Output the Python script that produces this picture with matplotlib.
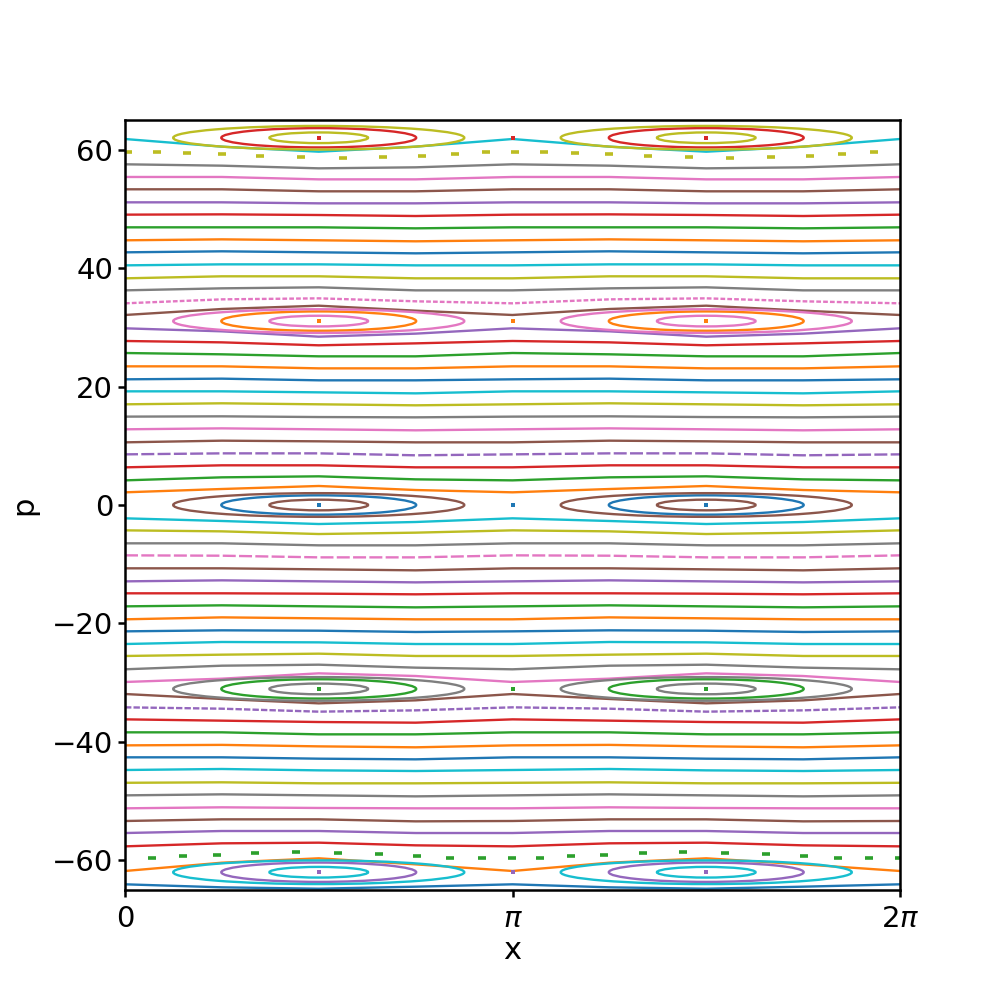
import numpy as np
import matplotlib
matplotlib.use("Agg")
import matplotlib.pyplot as plt
from matplotlib.patches import Ellipse

# ---------------- data ----------------
# invariant curves: p at x = 0, pi/4, pi/2, 3pi/4 (pattern repeats with period pi)
curve_colors = [
    "tab:cyan", "tab:gray", "tab:pink", "tab:brown", "tab:purple", "tab:red",
    "tab:green", "tab:orange", "tab:blue", "tab:cyan", "tab:olive", "tab:gray",
    "tab:pink", "tab:brown", "tab:purple", "tab:red", "tab:green", "tab:orange",
    "tab:blue", "tab:cyan", "tab:olive", "tab:gray", "tab:pink", "tab:brown",
    "tab:purple", "tab:red", "tab:green", "tab:orange",
    "tab:cyan", "tab:olive", "tab:gray", "tab:pink", "tab:brown", "tab:purple",
    "tab:red", "tab:green", "tab:orange", "tab:blue", "tab:cyan", "tab:olive",
    "tab:gray", "tab:pink", "tab:brown", "tab:purple", "tab:red", "tab:green",
    "tab:orange", "tab:blue", "tab:cyan", "tab:olive", "tab:gray", "tab:pink",
    "tab:brown", "tab:purple", "tab:red", "tab:orange", "tab:blue",
]
curve_p_x0 = [
    61.79, 57.52, 55.38, 53.30, 51.10, 49.02, 46.88, 44.69, 42.66, 40.46, 38.27, 36.24,
    34.05, 32.08, 29.83, 27.69, 25.66, 23.41, 21.22, 19.19, 17.00, 14.92, 12.78, 10.58,
    8.55, 6.36, 4.16, 2.14,
    -2.25, -4.28, -6.47, -8.50, -10.69, -12.89, -14.91, -17.11, -19.30, -21.33, -23.47,
    -25.49, -27.74, -29.88, -31.91, -34.16, -36.19, -38.38, -40.58, -42.60, -44.74,
    -46.90, -49.02, -51.21, -53.35, -55.38, -57.63, -61.79, -64.04,
]
curve_p_x1 = [
    60.50, 57.29, 55.38, 53.30, 51.10, 49.07, 46.88, 44.85, 42.83, 40.63, 38.61, 36.58,
    34.72, 33.09, 29.32, 27.46, 25.44, 23.41, 21.33, 19.19, 17.17, 14.97, 12.94, 10.86,
    8.72, 6.70, 4.67, 2.70,
    -2.70, -4.45, -6.47, -8.56, -10.69, -12.72, -14.91, -16.94, -18.97, -21.16, -23.13,
    -25.27, -27.13, -29.32, -32.75, -34.39, -36.41, -38.38, -40.50, -42.60, -44.57,
    -46.82, -48.85, -51.04, -53.07, -55.04, -57.12, -60.39, -64.55,
]
curve_p_x2 = [
    59.65, 56.84, 54.98, 52.96, 50.93, 48.96, 46.88, 44.69, 42.66, 40.63, 38.61, 36.75,
    34.89, 33.65, 28.42, 26.96, 25.10, 23.07, 21.05, 19.02, 17.00, 14.85, 12.78, 10.75,
    8.72, 6.70, 4.84, 3.21,
    -3.21, -4.90, -6.81, -8.84, -10.86, -12.89, -14.97, -17.11, -19.13, -21.22, -23.19,
    -25.10, -26.96, -28.42, -33.49, -34.89, -36.64, -38.72, -40.75, -42.83, -44.80,
    -46.99, -49.02, -51.15, -53.07, -55.04, -57.01, -59.65, -64.78,
]
curve_p_x3 = [
    60.50, 57.01, 54.98, 52.96, 50.93, 48.79, 46.71, 44.52, 42.49, 40.46, 38.27, 36.24,
    34.39, 32.81, 28.93, 27.29, 25.10, 23.07, 21.05, 18.85, 16.83, 14.80, 12.61, 10.58,
    8.39, 6.36, 4.33, 2.53,
    -2.87, -4.67, -6.81, -8.84, -11.03, -13.06, -15.08, -17.28, -19.30, -21.44, -23.47,
    -25.49, -27.46, -28.87, -32.98, -34.67, -36.75, -38.72, -40.91, -42.94, -44.91,
    -46.99, -49.19, -51.21, -53.41, -55.38, -57.46, -60.67, -64.44,
]
# dashed (sparse) orbits: index -> dash pattern
dashed_curves = {12: (2.0, 0.9), 24: (5.5, 1.4), 31: (5.5, 1.4), 43: (2.7, 0.9)}

# island chains (one period of x, repeats with period pi)
olive_chain_x = [0.024, 0.259, 0.503, 0.786, 1.095, 1.427, 1.767, 2.092, 2.408, 2.675, 2.927]
olive_chain_p = [59.55, 59.55, 59.43, 59.21, 58.87, 58.70, 58.53, 58.70, 58.97, 59.21, 59.55]
green_chain_x = [0.221, 0.473, 0.743, 1.054, 1.384, 1.724, 2.059, 2.365, 2.635, 2.892, 3.135]
green_chain_p = [-59.65, -59.31, -59.09, -58.80, -58.63, -58.80, -58.97, -59.31, -59.54, -59.65, -59.65]

# resonance islands (centred at x = pi/2 and 3pi/2)
island_p = [62.0, 31.05, 0.0, -31.05, -62.0]
island_ring_color = ["tab:olive", "tab:pink", "tab:brown", "tab:gray", "tab:cyan"]
island_mid_color = ["tab:red", "tab:orange", "tab:blue", "tab:green", "tab:purple"]
ring_half_width = [0.40, 0.79, 1.18]     # inner, middle, outer (rad)
ring_half_height = [0.90, 1.63, 2.00]    # inner, middle, outer (p units)
fixed_point_x = [np.pi / 2, np.pi, 3 * np.pi / 2]

# ---------------- drawing ----------------
fig, ax = plt.subplots(figsize=(10, 10), dpi=100)
LW = 1.7

x_half = np.array([0, np.pi / 4, np.pi / 2, 3 * np.pi / 4])
x_full = np.concatenate([x_half, x_half + np.pi, [2 * np.pi]])

for i, col in enumerate(curve_colors):
    ph = [curve_p_x0[i], curve_p_x1[i], curve_p_x2[i], curve_p_x3[i]]
    p_full = ph + ph + [ph[0]]
    if i in dashed_curves:
        ax.plot(x_full, p_full, color=col, lw=LW, linestyle=(0, dashed_curves[i]),
                solid_capstyle="butt", dash_capstyle="butt")
    else:
        ax.plot(x_full, p_full, color=col, lw=LW, solid_joinstyle="round")

for cx, cp, col in [(olive_chain_x, olive_chain_p, "tab:olive"),
                    (green_chain_x, green_chain_p, "tab:green")]:
    xs = np.concatenate([np.array(cx), np.array(cx) + np.pi])
    ps = list(cp) + list(cp)
    ax.plot(xs, ps, linestyle="none", marker="_", markersize=5.5, mew=2.6, color=col)

for pc, rc, mc in zip(island_p, island_ring_color, island_mid_color):
    for xc in (np.pi / 2, 3 * np.pi / 2):
        for k, (hw, hh) in enumerate(zip(ring_half_width, ring_half_height)):
            col = mc if k == 1 else rc
            ax.add_patch(Ellipse((xc, pc), 2 * hw, 2 * hh, fill=False,
                                 edgecolor=col, lw=LW, zorder=3))
    ax.plot(fixed_point_x, [pc] * len(fixed_point_x), linestyle="none",
            marker="s", markersize=2.2, color=mc, mew=0, zorder=4)

ax.set_xlim(0, 2 * np.pi)
ax.set_ylim(-65, 65)
ax.set_xticks([0, np.pi, 2 * np.pi])
ax.set_xticklabels(["0", r"$\pi$", r"$2\pi$"])
ax.set_yticks([-60, -40, -20, 0, 20, 40, 60])
ax.set_yticklabels(["\u221260", "\u221240", "\u221220", "0", "20", "40", "60"])
ax.tick_params(labelsize=21, width=1.8, length=5)
ax.tick_params(axis="x", pad=6)
for s in ax.spines.values():
    s.set_linewidth(1.8)
ax.set_xlabel("x", fontsize=22, labelpad=2)
ax.set_ylabel("p", fontsize=22, labelpad=10)

fig.savefig("out.png", dpi=100)
